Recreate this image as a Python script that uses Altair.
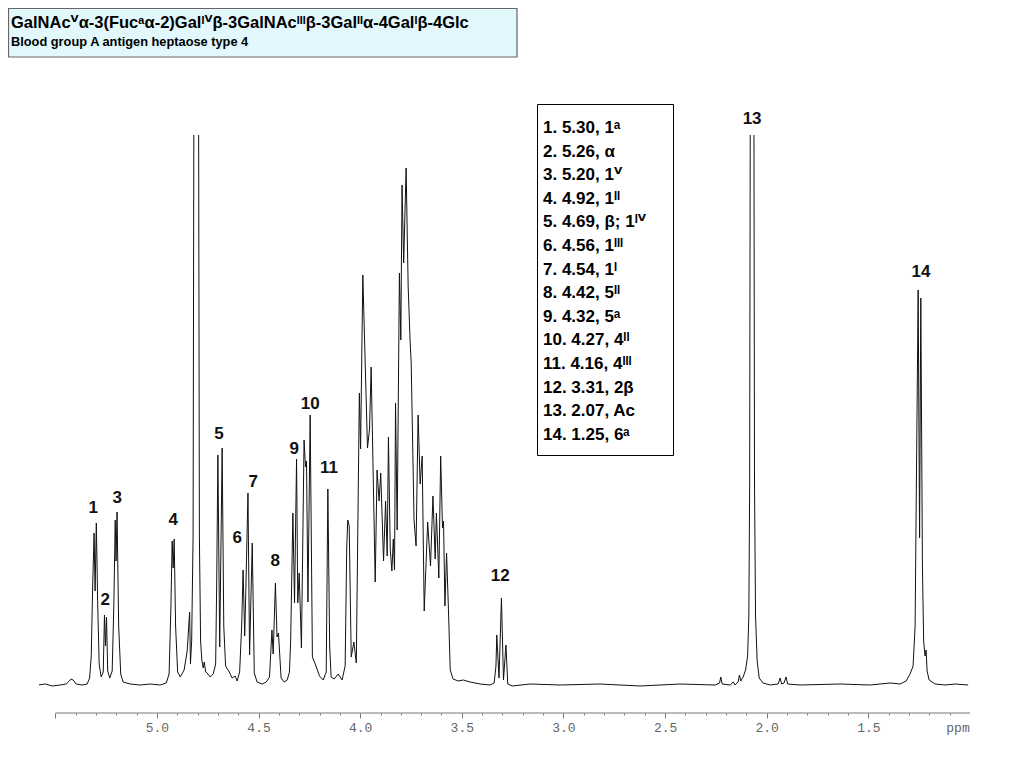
import altair as alt
import pandas as pd

# ---------------- data ----------------
trace_ppm = [
    5.584, 5.549, 5.515, 5.476, 5.446, 5.431, 5.422, 5.412, 5.397, 5.368, 5.343,
    5.331, 5.323, 5.316, 5.309, 5.304, 5.298, 5.291, 5.284, 5.274, 5.264, 5.258,
    5.253, 5.248, 5.242, 5.232, 5.220, 5.212, 5.205, 5.201, 5.196, 5.188, 5.178,
    5.166, 5.131, 5.082, 5.033, 4.984, 4.954, 4.940, 4.931, 4.925, 4.920, 4.915,
    4.908, 4.898, 4.885, 4.866, 4.851, 4.842, 4.839, 4.835, 4.829, 4.822, 4.817,
    4.796, 4.791, 4.785, 4.779, 4.772, 4.767, 4.760, 4.753, 4.738, 4.723, 4.711,
    4.706, 4.700, 4.691, 4.679, 4.671, 4.662, 4.644, 4.630, 4.615, 4.605, 4.593,
    4.583, 4.576, 4.568, 4.562, 4.552, 4.544, 4.531, 4.521, 4.507, 4.482, 4.462,
    4.446, 4.434, 4.428, 4.417, 4.409, 4.402, 4.389, 4.374, 4.359, 4.348, 4.342,
    4.331, 4.323, 4.313, 4.307, 4.300, 4.289, 4.276, 4.269, 4.264, 4.257, 4.246,
    4.235, 4.221, 4.200, 4.182, 4.167, 4.159, 4.150, 4.143, 4.128, 4.108, 4.089,
    4.074, 4.066, 4.061, 4.054, 4.044, 4.031, 4.019, 4.004, 3.998, 3.987, 3.964,
    3.954, 3.946, 3.926, 3.917, 3.907, 3.899, 3.885, 3.875, 3.867, 3.861, 3.852,
    3.844, 3.837, 3.831, 3.826, 3.818, 3.807, 3.800, 3.794, 3.786, 3.774, 3.764,
    3.754, 3.749, 3.735, 3.725, 3.715, 3.705, 3.695, 3.685, 3.668, 3.654, 3.642,
    3.631, 3.625, 3.613, 3.604, 3.595, 3.590, 3.583, 3.575, 3.566, 3.557, 3.543,
    3.518, 3.493, 3.459, 3.410, 3.361, 3.341, 3.332, 3.328, 3.317, 3.305, 3.295,
    3.283, 3.274, 3.252, 3.164, 3.016, 2.820, 2.623, 2.426, 2.254, 2.232, 2.226,
    2.219, 2.180, 2.164, 2.156, 2.141, 2.134, 2.128, 2.116, 2.104, 2.094, 2.088,
    2.084, 2.080, 2.064, 2.060, 2.055, 2.047, 2.037, 2.018, 1.983, 1.944, 1.934,
    1.927, 1.915, 1.905, 1.897, 1.836, 1.639, 1.491, 1.393, 1.344, 1.314, 1.295,
    1.280, 1.270, 1.263, 1.255, 1.248, 1.242, 1.234, 1.228, 1.221, 1.216, 1.211,
    1.201, 1.172, 1.123, 1.073, 1.009,
]
trace_int = [
    1, 2, 0, 1, 2, 5, 7, 6, 2, 1, 2,
    8, 30, 100, 153, 95, 163, 80, 22, 9, 14, 71,
    40, 69, 15, 8, 15, 80, 166, 125, 174, 60, 12,
    4, 2, 1, 2, 1, 3, 12, 80, 145, 118, 147,
    60, 14, 9, 16, 35, 65, 74, 22, 45, 150, 700,
    700, 150, 45, 26, 18, 24, 14, 13, 9, 12, 22,
    100, 231, 39, 238, 60, 20, 14, 8, 10, 5, 14,
    60, 116, 50, 100, 193, 31, 143, 13, 4, 2, 4,
    9, 56, 32, 103, 49, 53, 8, 4, 6, 14, 45,
    173, 83, 227, 83, 113, 38, 246, 219, 225, 84, 271,
    29, 22, 10, 6, 14, 197, 40, 9, 7, 12, 6,
    20, 140, 166, 160, 29, 44, 23, 293, 237, 411, 238,
    257, 319, 104, 216, 185, 213, 125, 185, 130, 249, 137,
    115, 147, 116, 283, 156, 413, 346, 501, 423, 518, 400,
    343, 323, 166, 140, 271, 202, 230, 75, 164, 120, 190,
    127, 173, 108, 230, 158, 165, 80, 133, 78, 16, 7,
    5, 6, 4, 2, 1, 3, 20, 51, 8, 88, 6,
    41, 2, 0, 2, 1, 2, 0, 2, 1, 3, 9,
    2, 1, 4, 1, 4, 11, 5, 9, 16, 30, 70,
    200, 700, 700, 200, 70, 25, 8, 3, 1, 2, 8,
    2, 3, 9, 2, 1, 2, 1, 3, 2, 5, 12,
    20, 60, 220, 396, 148, 388, 120, 45, 30, 36, 15,
    6, 2, 1, 2, 1,
]

peak_ids = ["1", "2", "3", "4", "5", "6", "7", "8", "9", "10", "11", "12", "13", "14"]
peak_shift = [5.30, 5.26, 5.20, 4.92, 4.69, 4.56, 4.54, 4.42, 4.32, 4.27, 4.16, 3.31, 2.07, 1.25]
peak_assign = ["1ᵃ", "α", "1ⱽ", "1ᴵᴵ", "β; 1ᴵⱽ", "1ᴵᴵᴵ", "1ᴵ", "5ᴵᴵ", "5ᵃ", "4ᴵᴵ",
               "4ᴵᴵᴵ", "2β", "Ac", "6ᵃ"]
label_ppm = [5.313, 5.254, 5.195, 4.920, 4.694, 4.605, 4.526, 4.418, 4.325, 4.246,
             4.153, 3.311, 2.072, 1.241]
label_int = [178, 86, 188, 166, 252, 148, 204, 125, 237, 282, 218, 110, 567, 414]

tick_values = [5.5, 5.4, 5.3, 5.2, 5.1, 5.0, 4.9, 4.8, 4.7, 4.6, 4.5, 4.4, 4.3, 4.2,
               4.1, 4.0, 3.9, 3.8, 3.7, 3.6, 3.5, 3.4, 3.3, 3.2, 3.1, 3.0, 2.9, 2.8,
               2.7, 2.6, 2.5, 2.4, 2.3, 2.2, 2.1, 2.0, 1.9, 1.8, 1.7, 1.6, 1.5, 1.4,
               1.3, 1.2, 1.1]
axis_start = 5.5
axis_end = 1.0

title_text = "GalNAcⱽα-3(Fucᵃα-2)Galᴵⱽβ-3GalNAcᴵᴵᴵβ-3Galᴵᴵα-4Galᴵβ-4Glc"
subtitle_text = "Blood group A antigen heptaose type 4"

# ---------------- chart ----------------
W, H = 931, 578
SANS = "Liberation Sans, Arial, DejaVu Sans"
MONO = "Liberation Mono, Courier New, monospace"

spec = pd.DataFrame({"ppm": trace_ppm, "intensity": trace_int})
labels = pd.DataFrame({"id": peak_ids, "lppm": label_ppm, "lint": label_int})
legend = pd.DataFrame({
    "entry": [f"{i}. {s:.2f}, {a}" for i, s, a in zip(peak_ids, peak_shift, peak_assign)],
    "row": list(range(len(peak_ids))),
})
one = pd.DataFrame({"k": [0]})

x_scale = alt.Scale(domain=[1.0, 5.58], reverse=True, nice=False, zero=False)
y_scale = alt.Scale(domain=[-27, 551], nice=False, zero=False)

major_test = "abs(datum.value*2 - round(datum.value*2)) < 0.01"
x_axis = alt.Axis(
    values=tick_values, domain=False, grid=False, title=None,
    tickColor="#777", tickWidth=1,
    tickSize={"condition": {"test": major_test, "value": 5}, "value": 2},
    labelExpr=f"(datum.value > 5.2 || !({major_test})) ? '' : format(datum.value, '.1f')",
    labelFont=MONO, labelFontSize=13, labelColor="#666", labelPadding=3,
    labelFlush=False, labelOverlap=False,
)

line = alt.Chart(spec).mark_line(color="#111", strokeWidth=1, clip=True).encode(
    x=alt.X("ppm:Q", scale=x_scale, axis=x_axis),
    y=alt.Y("intensity:Q", scale=y_scale, axis=None),
)

axis_line = alt.Chart(pd.DataFrame({"a": [axis_start], "b": [axis_end]})).mark_rule(
    color="#777", strokeWidth=1
).encode(x=alt.X("a:Q", scale=x_scale, axis=x_axis), x2="b:Q", y=alt.value(H))

ppm_text = alt.Chart(one).mark_text(
    text="ppm", font=MONO, fontSize=13, color="#666", align="center", baseline="middle"
).encode(x=alt.value(919), y=alt.value(593))

peak_labels = alt.Chart(labels).mark_text(
    font=SANS, fontSize=17, fontWeight="bold", color="#111", baseline="middle", align="center"
).encode(
    x=alt.X("lppm:Q", scale=x_scale, axis=x_axis),
    y=alt.Y("lint:Q", scale=y_scale, axis=None),
    text="id:N",
)

title_box = alt.Chart(one).mark_rect(fill="#e3f8fc", stroke="#666", strokeWidth=1.2).encode(
    x=alt.value(-30.5), x2=alt.value(478), y=alt.value(-126.5), y2=alt.value(-78)
)
title = alt.Chart(one).mark_text(
    text=title_text, font=SANS, fontSize=16.5, fontWeight="bold", color="#000",
    align="left", baseline="alphabetic"
).encode(x=alt.value(-28), y=alt.value(-107))
subtitle = alt.Chart(one).mark_text(
    text=subtitle_text, font=SANS, fontSize=12.8, fontWeight="bold", color="#000",
    align="left", baseline="alphabetic"
).encode(x=alt.value(-28), y=alt.value(-89))

legend_box = alt.Chart(one).mark_rect(fill="white", stroke="#000", strokeWidth=1).encode(
    x=alt.value(498.5), x2=alt.value(634.5), y=alt.value(-30.5), y2=alt.value(320.5)
)
legend_text = alt.Chart(legend).transform_calculate(
    py="-7 + datum.row * 23.6"
).mark_text(
    font=SANS, fontSize=17, fontWeight="bold", color="#000", align="left", baseline="middle"
).encode(x=alt.value(504), y=alt.Y("py:Q", scale=None, axis=None), text="entry:N")

chart = alt.layer(
    line, axis_line, ppm_text, peak_labels, title_box, title, subtitle, legend_box, legend_text
).properties(
    width=W, height=H,
    autosize=alt.AutoSizeParams(type="none"),
    padding={"left": 31, "top": 127, "right": 20, "bottom": 40},
).configure_view(stroke=None)

chart.save("out.html", embed_options={"renderer": "svg", "actions": False})
